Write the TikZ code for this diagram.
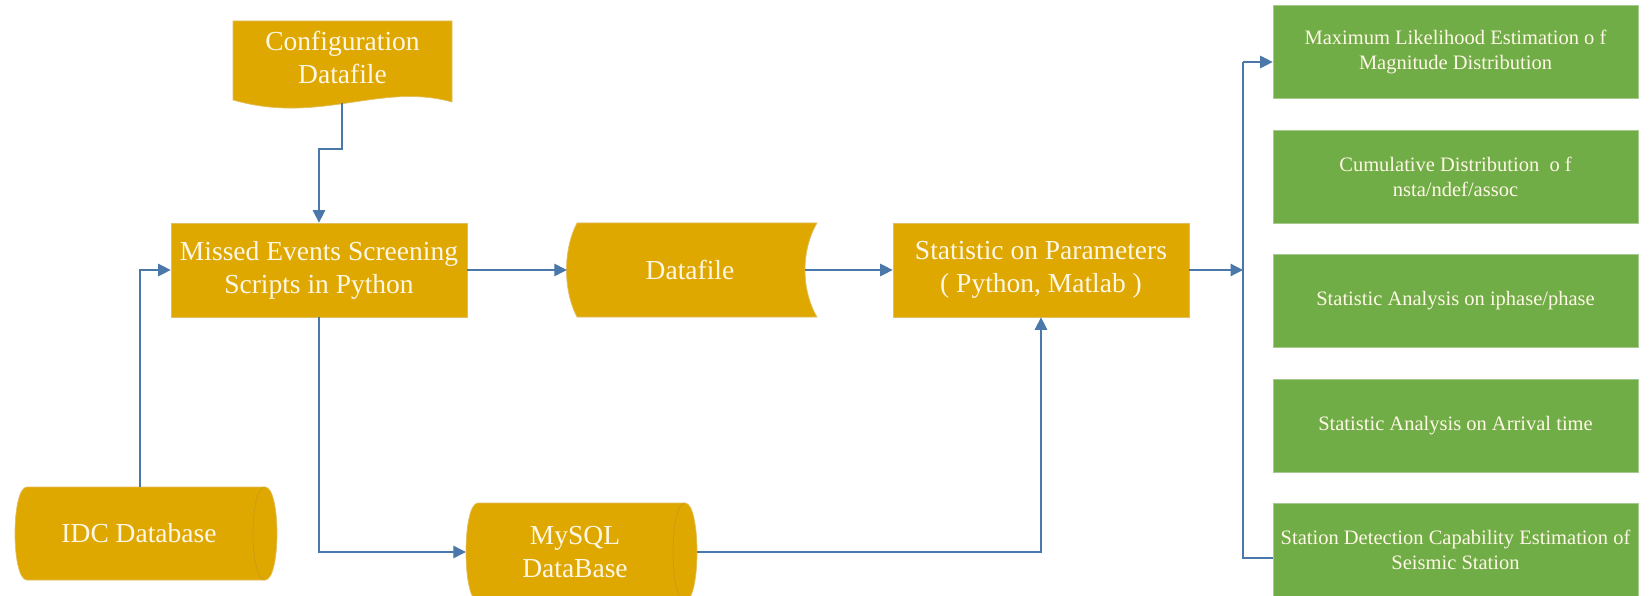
\documentclass[tikz,border=0pt]{standalone}
\usepackage{fontspec}
\setmainfont{Liberation Serif}
\usetikzlibrary{arrows.meta,calc}
\definecolor{gold}{HTML}{DFA800}
\definecolor{goldedge}{HTML}{E2BE5E}
\definecolor{goldline}{HTML}{C99A12}
\definecolor{grn}{HTML}{70AD47}
\definecolor{grnedge}{HTML}{A6C990}
\definecolor{conn}{HTML}{4A78AA}
\definecolor{txt}{HTML}{FFF7E6}
\tikzset{
  goldshape/.style={fill=gold,draw=goldedge,line width=0.7pt},
  goldbox/.style={rectangle,fill=gold,draw=goldedge,line width=0.7pt,minimum width=296pt,minimum height=94pt,inner sep=0pt},
  bigtext/.style={text=txt,font=\fontsize{27.5}{33}\selectfont,align=center,inner sep=0pt},
  greenbox/.style={rectangle,fill=grn,draw=grnedge,line width=0.7pt,minimum width=365pt,minimum height=93pt,inner sep=0pt,text=txt,font=\fontsize{20.5}{25}\selectfont,align=center},
  ghost/.style={rectangle,inner sep=0pt,draw=none},
  link/.style={draw=conn,line width=1.2pt},
  arr/.style={link,-{Triangle[length=12.5pt,width=12.5pt]}}
}
\begin{document}
\begin{tikzpicture}[x=1pt,y=-1pt]
\useasboundingbox (0,0) rectangle (1652,596);
\clip (0,0) rectangle (1652,596);
% Configuration datafile (document shape)
\path[goldshape] (233,21) -- (452,21) -- (452,102)
  .. controls (380,82) and (320,125) .. (233,100) -- cycle;
\node[bigtext] (cfg) at (342.5,57) {Configuration\\Datafile};
\coordinate (cfgb) at (342,103);
% Missed events box
\node[goldbox,bigtext] (miss) at (319,270) {Missed Events Screening\\Scripts in Python};
% Datafile (stored data)
\path[goldshape] (577,223) -- (817,223)
  .. controls (801,250) and (801,290) .. (817,317) -- (577,317)
  .. controls (563,290) and (563,250) .. (577,223) -- cycle;
\node[ghost,minimum width=250pt,minimum height=94pt] (df) at (692,270) {};
\node[bigtext] (dfT) at (690,270) {Datafile};
\coordinate (dfR) at (805,270);
% Statistic box
\node[goldbox,bigtext] (stat) at (1041,270) {Statistic on Parameters\\( Python, Matlab )};
% IDC Database cylinder
\path[goldshape] (27,487) -- (265,487)
  .. controls (281,487) and (281,580) .. (265,580) -- (27,580)
  .. controls (11,580) and (11,487) .. (27,487) -- cycle;
\draw[goldline,line width=0.6pt] (265,487) .. controls (249,487) and (249,580) .. (265,580);
\node[ghost,minimum width=262pt,minimum height=93pt] (idc) at (146,533.5) {};
\node[bigtext] (idcT) at (139,533) {IDC Database};
\coordinate (idcTop) at (140,487);
% MySQL cylinder
\path[goldshape] (478,503) -- (685,503)
  .. controls (701,503) and (701,601) .. (685,601) -- (478,601)
  .. controls (462,601) and (462,503) .. (478,503) -- cycle;
\draw[goldline,line width=0.6pt] (685,503) .. controls (669,503) and (669,601) .. (685,601);
\node[ghost,minimum width=231pt,minimum height=98pt] (mysql) at (581.5,552) {};
\node[bigtext] (mysqlT) at (575,552) {MySQL\\DataBase};
% Green result boxes
\node[greenbox] (g1) at (1455.5,51.5) {Maximum Likelihood Estimation o f\\Magnitude Distribution};
\node[greenbox] (g2) at (1455.5,176.5) {Cumulative Distribution\ \ o f\\nsta/ndef/assoc};
\node[greenbox] (g3) at (1455.5,300.5) {Statistic Analysis on iphase/phase};
\node[greenbox] (g4) at (1455.5,425.5) {Statistic Analysis on Arrival time};
\node[greenbox] (g5) at (1455.5,550) {Station Detection Capability Estimation of\\Seismic Station};
% bus coordinates
\coordinate (busTop) at (1243,62);
\coordinate (busMid) at (1243,270);
\coordinate (busBot) at (1243,558);
% connectors
\draw[arr] (cfgb) -- ++(0,46) -| (miss.north);
\draw[arr] (idcTop) |- (miss.west);
\draw[arr] (miss.east) -- (df.west);
\draw[arr] (miss.south) |- (mysql.west);
\draw[arr] (dfR) -- (stat.west);
\draw[arr] (mysql.east) -| (stat.south);
\draw[arr] (stat.east) -- (busMid);
\draw[link] (busTop) -- (busBot) -- (g5.west |- busBot);
\draw[arr] (busTop) -- (g1.west |- busTop);
\end{tikzpicture}
\end{document}
